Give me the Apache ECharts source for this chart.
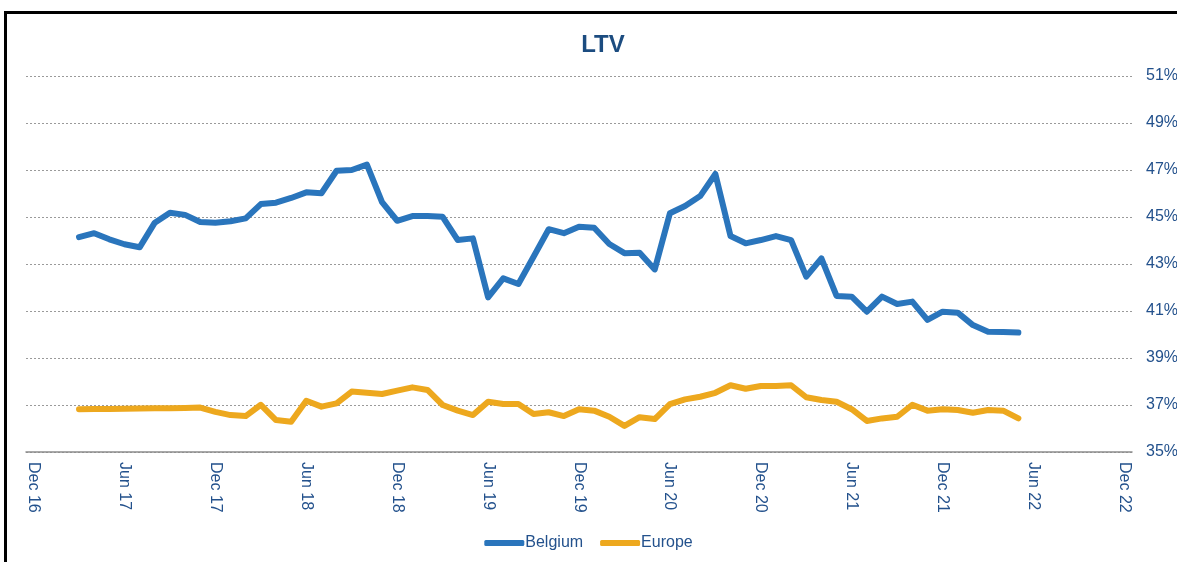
<!DOCTYPE html>
<html>
<head>
<meta charset="utf-8">
<style>
  html, body { margin: 0; padding: 0; background: #fff; }
  #chart { width: 1177px; height: 562px; }
  #frame {
    position: absolute; left: 4px; top: 11px; width: 1300px; height: 700px;
    border-left: 3px solid #000; border-top: 3px solid #000; pointer-events: none;
  }
</style>
<script src="https://cdn.jsdelivr.net/npm/echarts@6/dist/echarts.min.js"></script>
</head>
<body>
<div id="chart"></div>
<div id="frame"></div>
<script>
// Monthly categories, Dec 2016 to Dec 2022
const months = [
  'Dec 16','Jan 17','Feb 17','Mar 17','Apr 17','May 17','Jun 17','Jul 17','Aug 17','Sep 17','Oct 17','Nov 17',
  'Dec 17','Jan 18','Feb 18','Mar 18','Apr 18','May 18','Jun 18','Jul 18','Aug 18','Sep 18','Oct 18','Nov 18',
  'Dec 18','Jan 19','Feb 19','Mar 19','Apr 19','May 19','Jun 19','Jul 19','Aug 19','Sep 19','Oct 19','Nov 19',
  'Dec 19','Jan 20','Feb 20','Mar 20','Apr 20','May 20','Jun 20','Jul 20','Aug 20','Sep 20','Oct 20','Nov 20',
  'Dec 20','Jan 21','Feb 21','Mar 21','Apr 21','May 21','Jun 21','Jul 21','Aug 21','Sep 21','Oct 21','Nov 21',
  'Dec 21','Jan 22','Feb 22','Mar 22','Apr 22','May 22','Jun 22','Jul 22','Aug 22','Sep 22','Oct 22','Nov 22',
  'Dec 22'
];

// LTV in %, Mar 17 to May 22
const belgium = [
  44.14, 44.31, 44.05, 43.84, 43.71, 44.76, 45.18, 45.09, 44.79, 44.76,
  44.82, 44.94, 45.55, 45.61, 45.81, 46.05, 46.01, 46.97, 47.00, 47.23,
  45.63, 44.84, 45.04, 45.04, 45.01, 44.02, 44.09, 41.58, 42.39, 42.15,
  43.31, 44.48, 44.31, 44.59, 44.54, 43.85, 43.46, 43.48, 42.77, 45.16,
  45.47, 45.89, 46.83, 44.19, 43.88, 44.02, 44.19, 44.02, 42.46, 43.24,
  41.64, 41.61, 40.97, 41.61, 41.30, 41.40, 40.62, 40.97, 40.93, 40.40,
  40.12, 40.11, 40.08
];

const europe = [
  36.82, 36.83, 36.83, 36.84, 36.85, 36.86, 36.86, 36.87, 36.89, 36.71,
  36.57, 36.53, 37.01, 36.36, 36.29, 37.18, 36.93, 37.07, 37.57, 37.52,
  37.47, 37.61, 37.75, 37.64, 37.00, 36.76, 36.57, 37.14, 37.04, 37.04,
  36.62, 36.69, 36.53, 36.82, 36.76, 36.50, 36.11, 36.48, 36.40, 37.04,
  37.24, 37.35, 37.52, 37.84, 37.69, 37.81, 37.81, 37.84, 37.33, 37.21,
  37.14, 36.82, 36.32, 36.43, 36.50, 37.01, 36.76, 36.82, 36.79, 36.67,
  36.79, 36.76, 36.43
];

const firstMonth = 'Mar 17';

// Place each series on the monthly axis, leaving months without data empty
function alignToMonths(values) {
  const start = months.indexOf(firstMonth);
  return months.map((m, i) => {
    const k = i - start;
    return k >= 0 && k < values.length ? values[k] : null;
  });
}

const textColor = '#23518C';
const font = 'Liberation Sans, Arial';
const chart = echarts.init(document.getElementById('chart'));
chart.setOption({
  animation: false,
  title: {
    text: 'LTV',
    left: 598,
    textAlign: 'center',
    top: 28,
    textStyle: { fontFamily: font, fontSize: 24, fontWeight: 'bold', color: '#1C4C80' }
  },
  legend: {
    bottom: 6,
    left: 'center',
    icon: 'roundRect',
    itemWidth: 40,
    itemHeight: 6,
    itemGap: 17,
    textStyle: { fontFamily: font, fontSize: 16, color: textColor, padding: [0, 0, 0, -4] },
    data: ['Belgium', 'Europe']
  },
  // Fixed plot box; the % labels may run past the right edge
  grid: { left: 26, right: 45, top: 76, bottom: 110, containLabel: false, outerBoundsMode: 'none' },
  xAxis: {
    type: 'category',
    data: months,
    boundaryGap: true,
    axisLine: { lineStyle: { color: '#8C8C8C', width: 1.5 } },
    axisTick: { show: false },
    axisLabel: {
      interval: 5,
      rotate: -90,
      margin: 10,
      color: textColor,
      fontFamily: font,
      fontSize: 16
    },
    splitLine: { show: false }
  },
  yAxis: {
    type: 'value',
    position: 'right',
    min: 35,
    max: 51,
    interval: 2,
    axisLine: { show: false },
    axisTick: { show: false },
    axisLabel: {
      formatter: '{value}%',
      margin: 14,
      color: textColor,
      fontFamily: font,
      fontSize: 16
    },
    splitLine: { lineStyle: { color: '#9A9A9A', type: [2, 2], width: 1 } }
  },
  series: [
    {
      name: 'Belgium',
      type: 'line',
      data: alignToMonths(belgium),
      showSymbol: false,
      symbol: 'none',
      color: '#2A75BC',
      lineStyle: { width: 6, color: '#2A75BC', cap: 'round', join: 'round' },
      connectNulls: false
    },
    {
      name: 'Europe',
      type: 'line',
      data: alignToMonths(europe),
      showSymbol: false,
      symbol: 'none',
      color: '#EDA81E',
      lineStyle: { width: 6, color: '#EDA81E', cap: 'round', join: 'round' },
      connectNulls: false
    }
  ]
});
</script>
</body>
</html>
